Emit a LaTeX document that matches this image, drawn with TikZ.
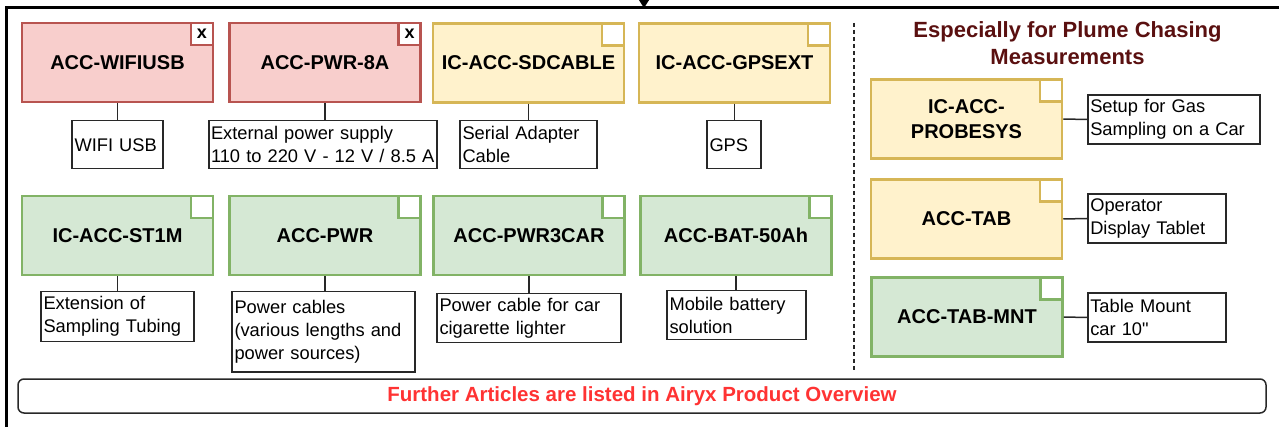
\documentclass[tikz,border=0pt]{standalone}
\usepackage{fontspec}
\setmainfont{Liberation Sans}
\newfontfamily\plainsans{Liberation Sans}
\usetikzlibrary{arrows.meta}
\definecolor{rfill}{HTML}{F8CECC}\definecolor{rdraw}{HTML}{B85450}
\definecolor{yfill}{HTML}{FFF2CC}\definecolor{ydraw}{HTML}{D6B656}
\definecolor{gfill}{HTML}{D5E8D4}\definecolor{gdraw}{HTML}{82B366}
\definecolor{titlered}{RGB}{90,16,16}
\definecolor{notered}{RGB}{255,51,51}
\definecolor{linegray}{RGB}{40,40,40}
\tikzset{
  item/.style={draw, line width=2.5pt, minimum width=191pt, minimum height=79pt, inner sep=0pt,
    align=center, font=\fontsize{20}{25}\selectfont\bfseries},
  redbox/.style={item, fill=rfill, draw=rdraw},
  yelbox/.style={item, fill=yfill, draw=ydraw},
  grnbox/.style={item, fill=gfill, draw=gdraw},
  corner/.style={draw, fill=white, line width=2.5pt, minimum size=22pt, inner sep=0pt, anchor=north east,
    font=\fontsize{18}{18}\selectfont\bfseries},
  lbl/.style={draw=linegray, line width=1.5pt, fill=white, inner xsep=2.5pt, inner ysep=1pt, align=left,
    font=\fontsize{18.3}{23}\selectfont},
  conn/.style={draw=linegray, line width=1.5pt},
}
\begin{document}
\begin{tikzpicture}[x=1pt,y=-1pt]
\useasboundingbox (0,0) rectangle (1279,427);
% outer frame
\draw[line width=3pt] (6.5,440) -- (6.5,8) -- (1300,8);
\coordinate (arrTop) at (644,-12);
\coordinate (arrTip) at (644,8);
\draw[line width=1.5pt, -{Triangle[width=11pt,length=9pt]}] (arrTop) -- (arrTip);
% dashed separator
\coordinate (dA) at (854,23);
\coordinate (dB) at (854,370);
\draw[linegray, line width=1.5pt, dash pattern=on 4pt off 3pt] (dA) -- (dB);

% row 1
\node[redbox] (wifi) at (117.5,62.5) {ACC-WIFIUSB};
\node[corner, draw=rdraw] (wifiC) at (wifi.north east) {x};
\node[redbox] (pwr8) at (325,62.5) {ACC-PWR-8A};
\node[corner, draw=rdraw] (pwr8C) at (pwr8.north east) {x};
\node[yelbox] (sdc) at (528.5,63) {IC-ACC-SDCABLE};
\node[corner, draw=ydraw] (sdcC) at (sdc.north east) {};
\node[yelbox] (gps) at (734.5,63) {IC-ACC-GPSEXT};
\node[corner, draw=ydraw] (gpsC) at (gps.north east) {};

\node[lbl, anchor=north, text width=86pt, minimum height=48pt] (wifiL) at (117.5,120) {WIFI USB};
\node[lbl, anchor=north, inner xsep=2pt, text width=224pt, minimum height=48pt] (pwr8L) at (323,120) {\mbox{External power supply}\\\mbox{110 to 220 V - 12 V / 8.5 A}};
\node[lbl, anchor=north, text width=132pt, minimum height=48pt] (sdcL) at (528.5,120) {Serial Adapter\\Cable};
\node[lbl, anchor=north, text width=49pt, minimum height=48pt] (gpsL) at (734,120) {GPS};
\draw[conn] (wifi.south) -- (wifiL.north);
\draw[conn] (pwr8.south) -- (pwr8.south |- pwr8L.north);
\draw[conn] (sdc.south) -- (sdc.south |- sdcL.north);
\draw[conn] (gps.south) -- (gps.south |- gpsL.north);

% row 2
\node[grnbox] (st1m) at (117.5,235.5) {IC-ACC-ST1M};
\node[corner, draw=gdraw] (st1mC) at (st1m.north east) {};
\node[grnbox] (pwr) at (325,235.5) {ACC-PWR};
\node[corner, draw=gdraw] (pwrC) at (pwr.north east) {};
\node[grnbox] (car) at (529,235.5) {ACC-PWR3CAR};
\node[corner, draw=gdraw] (carC) at (car.north east) {};
\node[grnbox] (bat) at (736,235.5) {ACC-BAT-50Ah};
\node[corner, draw=gdraw] (batC) at (bat.north east) {};

\node[lbl, anchor=north, text width=148pt, minimum height=50pt] (st1mL) at (117.5,291) {Extension of\\Sampling Tubing};
\node[lbl, anchor=north, text width=178pt, minimum height=80pt] (pwrL) at (323.5,291) {Power cables\\(various lengths and\\power sources)};
\node[lbl, anchor=north, text width=179pt, minimum height=49pt] (carL) at (529,293) {Power cable for car\\cigarette lighter};
\node[lbl, anchor=north, text width=134pt, minimum height=49pt] (batL) at (736.5,290) {Mobile battery\\solution};
\draw[conn] (st1m.south) -- (st1mL.north);
\draw[conn] (pwr.south) -- (pwr.south |- pwrL.north);
\draw[conn] (car.south) -- (carL.north);
\draw[conn] (bat.south) -- (bat.south |- batL.north);

% right column
\node[font=\fontsize{22}{27}\selectfont\bfseries, text=titlered, align=center] (title) at (1067.5,43.5) {Especially for Plume Chasing\\Measurements};
\node[yelbox] (probe) at (966.5,119) {IC-ACC-\\PROBESYS};
\node[corner, draw=ydraw] (probeC) at (probe.north east) {};
\node[yelbox] (tab) at (966.5,219) {ACC-TAB};
\node[corner, draw=ydraw] (tabC) at (tab.north east) {};
\node[grnbox] (mnt) at (967,317) {ACC-TAB-MNT};
\node[corner, draw=gdraw] (mntC) at (mnt.north east) {};

\node[lbl, anchor=west, text width=167pt, minimum height=49pt] (probeL) at (1087,119.5) {Setup for Gas\\Sampling on a Car};
\node[lbl, anchor=west, text width=133pt, minimum height=49pt] (tabL) at (1087,218.5) {Operator\\Display Tablet};
\node[lbl, anchor=west, text width=133pt, minimum height=49pt] (mntL) at (1087,317.5) {Table Mount\\{\plainsans car 10"}};
\draw[conn] (probe.east) -- (probeL.west);
\draw[conn] (tab.east) -- (tabL.west);
\draw[conn] (mnt.east) -- (mntL.west);

% bottom bar
\node[draw=linegray, line width=1.5pt, rounded corners=6pt, minimum width=1248pt, minimum height=34pt,
  font=\fontsize{20.5}{24}\selectfont\bfseries, text=notered] (further) at (642,396) {Further Articles are listed in Airyx Product Overview};
\end{tikzpicture}
\end{document}
